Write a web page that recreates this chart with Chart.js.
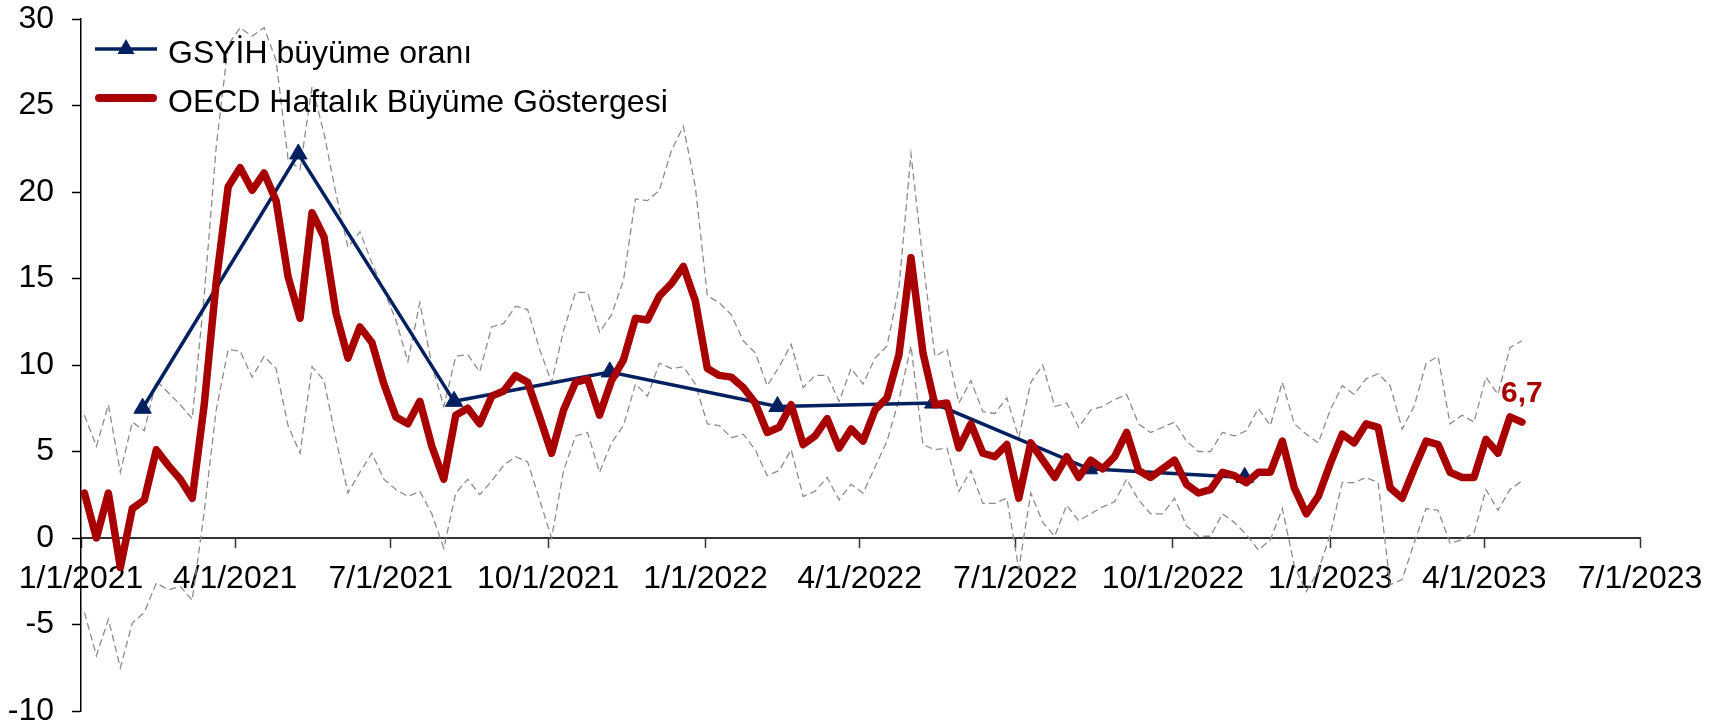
<!DOCTYPE html>
<html lang="tr">
<head>
<meta charset="utf-8">
<title>GSYİH büyüme oranı ve OECD Haftalık Büyüme Göstergesi</title>
<script src="https://cdn.jsdelivr.net/npm/chart.js@4.4.1/dist/chart.umd.min.js"></script>
<style>
  html, body { margin: 0; padding: 0; background: #fff; }
  #wrap { width: 1716px; height: 727px; }
</style>
</head>
<body>
<div id="wrap"><canvas id="growthChart" width="1716" height="727"></canvas></div>
<script>
// haftalık seriler: ilk hafta, sonra her 7 günde bir değer
const weekStart = '2021-01-03';

const oecdWeekly = [
  2.6, 0.0, 2.6, -1.7, 1.7, 2.2, 5.1, 4.2, 3.4, 2.3,
  7.7, 14.8, 20.3, 21.4, 20.1, 21.1, 19.5, 15.1, 12.7, 18.8,
  17.4, 13.0, 10.4, 12.2, 11.3, 8.9, 7.0, 6.6, 7.9, 5.3,
  3.4, 7.1, 7.5, 6.6, 8.2, 8.5, 9.4, 9.0, 7.0, 4.9,
  7.4, 9.0, 9.2, 7.1, 9.1, 10.3, 12.7, 12.6, 14.0, 14.7,
  15.7, 13.7, 9.8, 9.4, 9.3, 8.7, 7.8, 6.1, 6.4, 7.7,
  5.4, 5.9, 6.9, 5.2, 6.3, 5.6, 7.4, 8.1, 10.6, 16.2,
  10.7, 7.7, 7.8, 5.2, 6.6, 4.9, 4.7, 5.4, 2.3, 5.5,
  4.5, 3.5, 4.7, 3.5, 4.5, 4.0, 4.7, 6.1, 3.9, 3.5,
  4.0, 4.5, 3.1, 2.6, 2.8, 3.8, 3.6, 3.2, 3.8, 3.8,
  5.6, 2.9, 1.4, 2.4, 4.3, 6.0, 5.5, 6.6, 6.4, 2.9,
  2.3, 4.0, 5.6, 5.4, 3.8, 3.5, 3.5, 5.7, 4.9, 7.0,
  6.7
];

const oecdUpper = [
  7.1, 5.3, 7.7, 3.8, 6.7, 6.2, 9.1, 8.4, 7.7, 6.9,
  14.0, 22.6, 28.5, 29.5, 29.0, 29.5, 27.6, 21.9, 21.3, 26.1,
  23.4, 19.9, 16.8, 17.7, 15.9, 14.3, 12.6, 10.2, 13.6, 10.0,
  7.6, 10.5, 10.6, 9.6, 12.2, 12.4, 13.4, 13.2, 10.9, 9.0,
  12.0, 14.2, 14.2, 11.9, 12.9, 14.9, 19.6, 19.5, 20.1, 22.4,
  23.8, 20.3, 14.0, 13.6, 12.9, 11.4, 10.7, 8.8, 9.9, 11.2,
  8.7, 9.4, 9.4, 7.9, 9.8, 8.9, 10.4, 11.1, 14.5, 22.2,
  16.0, 10.5, 10.9, 7.8, 9.1, 7.3, 7.2, 8.1, 5.8, 9.0,
  10.0, 7.6, 7.8, 6.4, 7.4, 7.6, 8.0, 8.3, 6.6, 6.1,
  6.4, 6.7, 5.6, 5.0, 5.0, 6.1, 5.9, 6.2, 7.5, 6.5,
  9.0, 6.6, 6.0, 5.5, 7.4, 8.8, 8.3, 9.2, 9.5, 8.8,
  6.3, 7.6, 10.1, 10.5, 6.6, 7.1, 6.7, 9.3, 8.3, 11.0,
  11.4
];

const oecdLower = [
  -4.3, -6.8, -4.7, -7.5, -4.9, -4.3, -2.6, -3.0, -2.8, -3.6,
  1.5, 7.4, 10.9, 10.8, 9.3, 10.5, 9.8, 6.5, 4.9, 9.9,
  9.1, 5.7, 2.6, 3.8, 4.9, 3.4, 2.8, 2.4, 2.7, 1.4,
  -0.6, 2.6, 3.4, 2.5, 3.3, 4.2, 4.7, 4.4, 2.2, 0.0,
  3.9, 5.9, 6.1, 3.8, 5.5, 6.5, 8.9, 8.2, 10.1, 9.8,
  9.9, 8.9, 6.6, 6.5, 5.8, 6.0, 5.1, 3.6, 3.9, 5.1,
  2.4, 2.7, 3.5, 2.2, 3.1, 2.6, 4.1, 5.6, 8.0, 11.1,
  5.4, 5.1, 5.2, 2.7, 3.9, 2.0, 2.0, 2.3, -1.8, 2.6,
  0.9, 0.1, 1.9, 1.0, 1.4, 1.8, 2.1, 3.4, 2.2, 1.4,
  1.4, 2.3, 0.7, 0.1, 0.1, 1.4, 0.9, 0.2, -0.7, -0.1,
  1.7, -1.6, -3.1, -1.9, 0.2, 3.2, 3.2, 3.5, 3.2, -2.7,
  -2.4, -0.3, 1.7, 1.6, -0.3, -0.1, 0.3, 2.8, 1.6, 2.8,
  3.3
];

// çeyreklik GSYİH (yıllık % değişim)
const gdpDates = ['2021-02-06', '2021-05-08', '2021-08-07', '2021-11-06',
                  '2022-02-12', '2022-05-14', '2022-08-13', '2022-11-12'];
const gdpGrowth = [7.5, 22.2, 7.9, 9.6, 7.6, 7.8, 4.0, 3.5];

const xTickDates = ['2021-01-01', '2021-04-01', '2021-07-01', '2021-10-01', '2022-01-01',
                    '2022-04-01', '2022-07-01', '2022-10-01', '2023-01-01', '2023-04-01', '2023-07-01'];
const yTickValues = [-10, -5, 0, 5, 10, 15, 20, 25, 30];

const DAY = 86400000;
const weekDates = oecdWeekly.map((v, i) => Date.parse(weekStart) + i * 7 * DAY);
const xTicks = xTickDates.map(d => Date.parse(d));
const toPoints = (xs, ys) => ys.map((v, i) => ({ x: xs[i], y: v }));

function fmtDate(ms) {
  const d = new Date(ms);
  return (d.getUTCMonth() + 1) + '/' + d.getUTCDate() + '/' + d.getUTCFullYear();
}

const RED = '#A80000';
const NAVY = '#002060';
const GREY = '#8C8C8C';

// lejant grafiğin içinde, sol üstte
const insideLegend = {
  id: 'insideLegend',
  afterDraw(chart) {
    const c = chart.ctx;
    c.save();
    c.lineCap = 'butt';
    c.strokeStyle = NAVY;
    c.lineWidth = 3.5;
    c.beginPath(); c.moveTo(95, 49); c.lineTo(157, 49); c.stroke();
    c.fillStyle = NAVY;
    c.beginPath(); c.moveTo(126, 39); c.lineTo(134.5, 54); c.lineTo(117.5, 54); c.closePath(); c.fill();

    c.strokeStyle = RED;
    c.lineWidth = 8;
    c.lineCap = 'round';
    c.beginPath(); c.moveTo(99, 98); c.lineTo(153, 98); c.stroke();

    c.fillStyle = '#000';
    c.font = "32px 'Liberation Sans', Arial, sans-serif";
    c.textAlign = 'left';
    c.textBaseline = 'alphabetic';
    c.fillText(chart.data.datasets[1].label, 168, 62.5);
    c.fillText(chart.data.datasets[0].label, 168, 111.5);
    c.restore();
  }
};

// son haftanın değeri
const lastValueLabel = {
  id: 'lastValueLabel',
  afterDatasetsDraw(chart) {
    const meta = chart.getDatasetMeta(0);
    const pt = meta.data[meta.data.length - 1];
    const val = oecdWeekly[oecdWeekly.length - 1];
    const c = chart.ctx;
    c.save();
    c.fillStyle = RED;
    c.font = "bold 30px 'Liberation Sans', Arial, sans-serif";
    c.textAlign = 'center';
    c.textBaseline = 'alphabetic';
    c.fillText(val.toFixed(1).replace('.', ','), pt.x, pt.y - 20);
    c.restore();
  }
};

Chart.defaults.font.family = "'Liberation Sans', Arial, sans-serif";
Chart.defaults.font.size = 32;
Chart.defaults.color = '#000';

const ctx = document.getElementById('growthChart').getContext('2d');
new Chart(ctx, {
  type: 'line',
  data: {
    datasets: [
      {
        label: 'OECD Haftalık Büyüme Göstergesi',
        data: toPoints(weekDates, oecdWeekly),
        borderColor: RED,
        borderWidth: 7.5,
        borderJoinStyle: 'round',
        borderCapStyle: 'round',
        pointRadius: 0,
        tension: 0
      },
      {
        label: 'GSYİH büyüme oranı',
        data: toPoints(gdpDates.map(d => Date.parse(d)), gdpGrowth),
        borderColor: NAVY,
        borderWidth: 3.5,
        pointStyle: 'triangle',
        pointRadius: 10,
        pointBackgroundColor: NAVY,
        pointBorderColor: NAVY,
        pointBorderWidth: 1,
        tension: 0
      },
      {
        label: 'Üst sınır',
        data: toPoints(weekDates, oecdUpper),
        borderColor: GREY,
        borderWidth: 1.3,
        borderDash: [7, 4],
        pointRadius: 0,
        tension: 0
      },
      {
        label: 'Alt sınır',
        data: toPoints(weekDates, oecdLower),
        borderColor: GREY,
        borderWidth: 1.3,
        borderDash: [7, 4],
        pointRadius: 0,
        tension: 0
      }
    ]
  },
  options: {
    responsive: false,
    animation: false,
    devicePixelRatio: 1,
    layout: { padding: { left: 7, right: 76, top: 19, bottom: 16 } },
    plugins: {
      legend: { display: false },
      tooltip: { enabled: false }
    },
    scales: {
      x: {
        type: 'linear',
        position: { y: 0 },
        min: xTicks[0],
        max: xTicks[xTicks.length - 1],
        afterBuildTicks: s => { s.ticks = xTicks.map(v => ({ value: v })); },
        afterFit: s => { s.paddingLeft = 0; s.paddingRight = 0; },
        grid: { drawOnChartArea: false, tickLength: 9, tickColor: '#333', tickWidth: 1.5 },
        border: { color: '#333', width: 2 },
        ticks: { autoSkip: false, maxRotation: 0, minRotation: 0, padding: 13, callback: v => fmtDate(v) }
      },
      y: {
        min: yTickValues[0],
        max: yTickValues[yTickValues.length - 1],
        afterBuildTicks: s => { s.ticks = yTickValues.map(v => ({ value: v })); },
        afterFit: s => { s.paddingTop = 0; s.paddingBottom = 0; s.width = 74; },
        grid: { drawOnChartArea: false, tickLength: 9, tickColor: '#000', tickWidth: 1.5 },
        border: { color: '#000', width: 1.5 },
        ticks: { padding: 18, font: { lineHeight: 1 } }
      }
    }
  },
  plugins: [insideLegend, lastValueLabel]
});
</script>
</body>
</html>
